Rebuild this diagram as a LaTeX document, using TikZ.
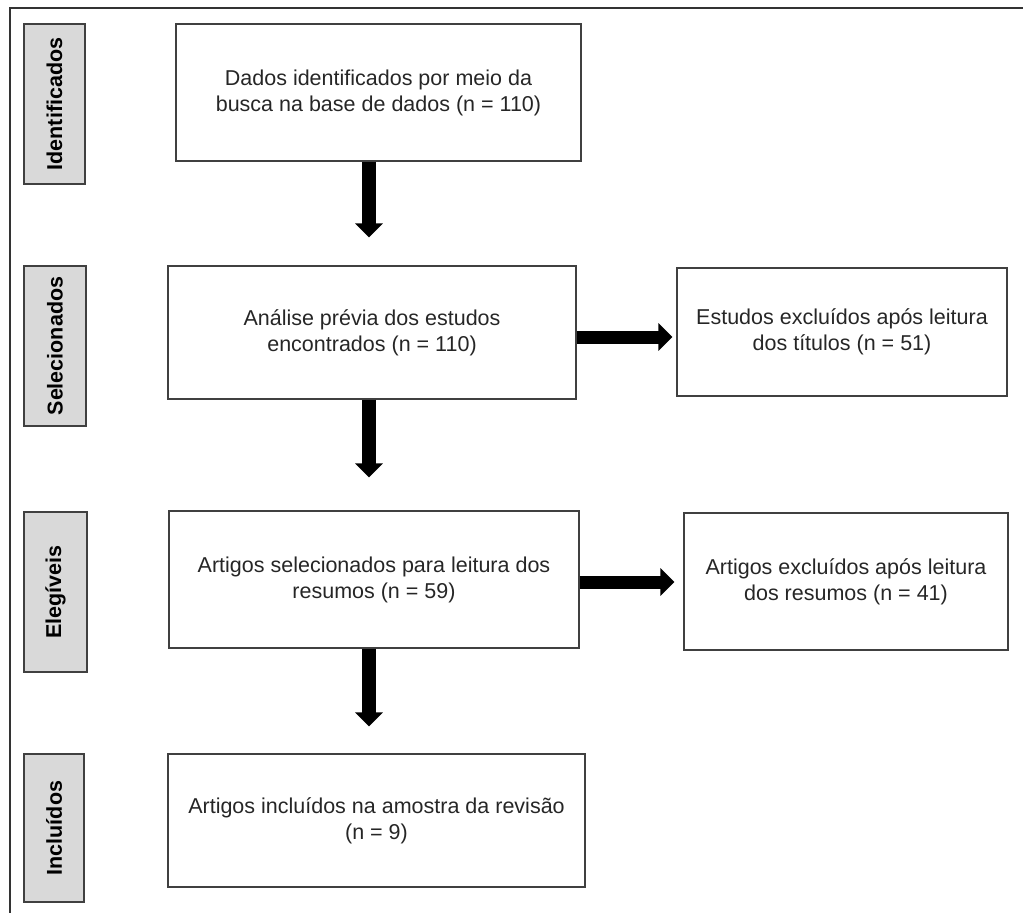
\documentclass[tikz,border=0pt]{standalone}
\usepackage{fontspec}
\setmainfont{Liberation Sans}
\usetikzlibrary{arrows.meta}
\begin{document}
\begin{tikzpicture}[x=1pt,y=-1pt,
  stagebox/.style={rectangle, draw=black!75, line width=1.3pt, fill=none, text=black!85, align=center, inner sep=0pt, font=\fontsize{21.5}{26}\selectfont},
  stagelabel/.style={rectangle, draw=black!75, line width=1.3pt, fill=black!15, rotate=90, inner sep=0pt, font=\fontsize{21.5}{26}\selectfont\bfseries},
  flowarrow/.style={line width=14pt, -{Triangle[width=27pt,length=14pt]}}]
\useasboundingbox (0,0) rectangle (1023,913);
\draw [line width=1.5pt, black!80] (10,913) -- (10,8) -- (1023,8);
% stage labels
\node [stagelabel, minimum width=160pt, minimum height=61pt] (s1) at (54.5,104) {Identificados};
\node [stagelabel, minimum width=160pt, minimum height=62pt] (s2) at (55,346) {Selecionados};
\node [stagelabel, minimum width=160pt, minimum height=63pt] (s3) at (55.5,592) {Elegíveis};
\node [stagelabel, minimum width=148pt, minimum height=60pt] (s4) at (54,828) {Incluídos};
% boxes
\node [stagebox, minimum width=405pt, minimum height=137pt] (b1) at (378.5,92.5) {Dados identificados por meio da\\busca na base de dados (n = 110)};
\node [stagebox, minimum width=408pt, minimum height=133pt] (b2) at (372,332.5) {Análise prévia dos estudos\\encontrados (n = 110)};
\node [stagebox, minimum width=330pt, minimum height=128pt] (b2x) at (842,332) {Estudos excluídos após leitura\\dos títulos (n = 51)};
\node [stagebox, minimum width=410pt, minimum height=137pt] (b3) at (374,579.5) {Artigos selecionados para leitura dos\\resumos (n = 59)};
\node [stagebox, minimum width=324pt, minimum height=137pt] (b3x) at (846,581.5) {Artigos excluídos após leitura\\dos resumos (n = 41)};
\node [stagebox, minimum width=417pt, minimum height=133pt] (b4) at (376.5,820.5) {Artigos incluídos na amostra da revisão\\(n = 9)};
% arrows
\coordinate (ax) at (369,0);
\coordinate (h1) at (0,337);
\coordinate (h2) at (0,582);
\draw [flowarrow, shorten >=28pt] (b1.south -| ax) -- (b2.north -| ax);
\draw [flowarrow, shorten >=33pt] (b2.south -| ax) -- (b3.north -| ax);
\draw [flowarrow, shorten >=27pt] (b3.south -| ax) -- (b4.north -| ax);
\draw [flowarrow, line width=13pt, shorten >=4pt] (b2.east |- h1) -- (b2x.west |- h1);
\draw [flowarrow, line width=13pt, shorten >=9pt] (b3.east |- h2) -- (b3x.west |- h2);
\end{tikzpicture}
\end{document}
